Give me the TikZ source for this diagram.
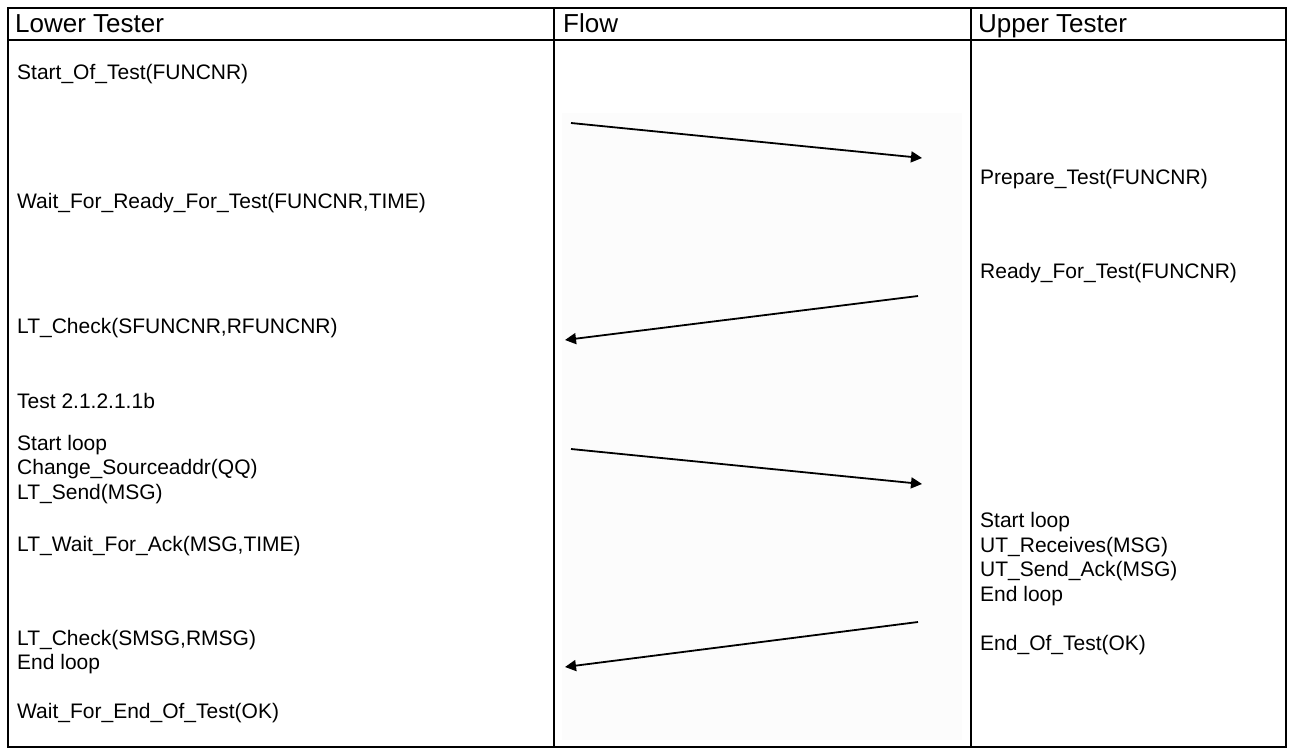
\documentclass[tikz,border=0pt]{standalone}
\usepackage{fontspec}
\setmainfont{Liberation Sans}
\usetikzlibrary{arrows.meta}
\definecolor{faint}{RGB}{252,252,252}
\tikzset{
  x=1pt, y=-1pt,
  frame/.style={line width=2.4pt, line cap=rect},
  head/.style={anchor=base west, inner sep=0pt, font=\fontsize{26}{30}\selectfont},
  txt/.style={anchor=base west, inner sep=0pt, align=left, font=\fontsize{21}{24.5}\selectfont},
  msg/.style={line width=1.8pt, -{Triangle[length=11pt,width=11pt]}},
}
\begin{document}
\begin{tikzpicture}
\useasboundingbox (0,0) rectangle (1292,749);
\fill[faint] (562,113) rectangle (962,740);
% table
\draw[frame] (8,8) rectangle (1286,747);
\draw[frame] (8,40) -- (1286,40);
\draw[frame] (554,8) -- (554,747);
\draw[frame] (971,8) -- (971,747);
% headers
\node[head] (hl) at (15,33) {Lower Tester};
\node[head] (hf) at (563,33) {Flow};
\node[head] (hu) at (978,33) {Upper Tester};
% lower tester (multi-line nodes: base = last line)
\node[txt] (l1) at (17,80) {Start\_Of\_Test(FUNCNR)};
\node[txt] (l2) at (17,208) {Wait\_For\_Ready\_For\_Test(FUNCNR,TIME)};
\node[txt] (l3) at (17,333) {LT\_Check(SFUNCNR,RFUNCNR)};
\node[txt] (l4) at (17,408) {Test 2.1.2.1.1b};
\node[txt] (l5) at (17,499) {Start loop\\Change\_Sourceaddr(QQ)\\LT\_Send(MSG)};
\node[txt] (l6) at (17,551) {LT\_Wait\_For\_Ack(MSG,TIME)};
\node[txt] (l7) at (17,669.5) {LT\_Check(SMSG,RMSG)\\End loop};
\node[txt] (l8) at (17,718) {Wait\_For\_End\_Of\_Test(OK)};
% upper tester
\node[txt] (u1) at (980,184) {Prepare\_Test(FUNCNR)};
\node[txt] (u2) at (980,278) {Ready\_For\_Test(FUNCNR)};
\node[txt] (u3) at (980,601) {Start loop\\UT\_Receives(MSG)\\UT\_Send\_Ack(MSG)\\End loop};
\node[txt] (u4) at (980,650) {End\_Of\_Test(OK)};
% flow arrows
\coordinate (a1s) at (571,123); \coordinate (a1e) at (922,158);
\coordinate (a2s) at (918,296); \coordinate (a2e) at (565,340);
\coordinate (a3s) at (571,449); \coordinate (a3e) at (922,484);
\coordinate (a4s) at (918,622); \coordinate (a4e) at (565,667);
\draw[msg] (a1s) -- (a1e);
\draw[msg] (a2s) -- (a2e);
\draw[msg] (a3s) -- (a3e);
\draw[msg] (a4s) -- (a4e);
\end{tikzpicture}
\end{document}
